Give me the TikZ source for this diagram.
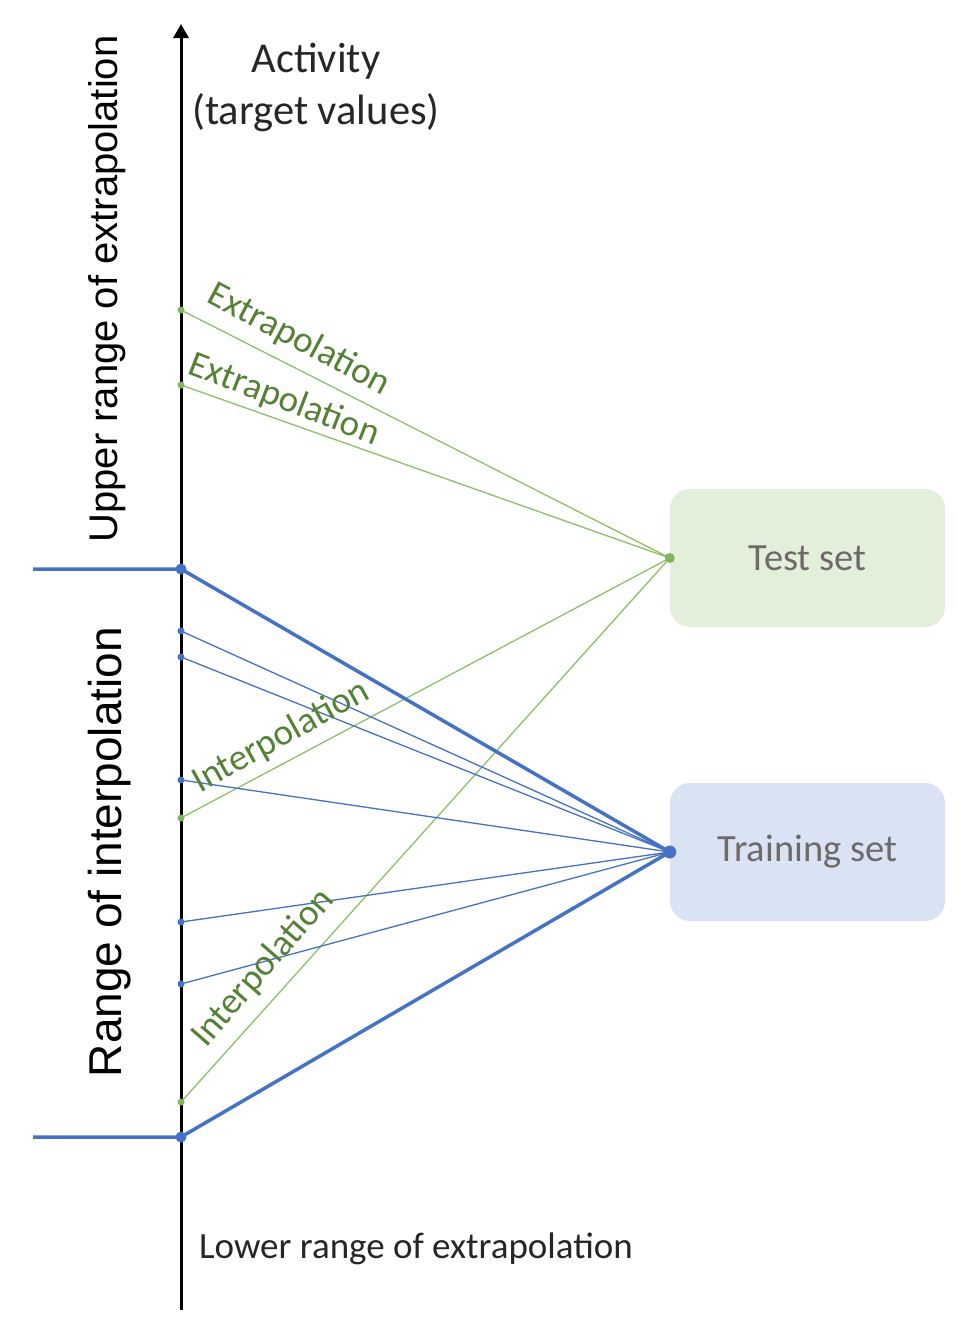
\documentclass[tikz,border=0pt]{standalone}
\usepackage{fontspec}
\setmainfont{Carlito}
\newfontfamily\arialf{Liberation Sans}
\usetikzlibrary{arrows.meta}
\definecolor{bl}{HTML}{4472C4}
\definecolor{gl}{HTML}{8CC068}
\definecolor{gtext}{HTML}{548235}
\definecolor{boxtext}{HTML}{6E6A6A}
\definecolor{testfill}{HTML}{E2EFDA}
\definecolor{trainfill}{HTML}{DAE3F3}
\begin{document}
\begin{tikzpicture}[x=1pt,y=-1pt,
  setbox/.style={rounded corners=20pt, minimum width=275pt, minimum height=138pt,
    inner sep=0pt, text=boxtext, font=\fontsize{38.5}{46}\selectfont},
  thinblue/.style={draw=bl, line width=1.3pt},
  thickblue/.style={draw=bl, line width=3.5pt},
  thingreen/.style={draw=gl, line width=1.3pt},
  glabel/.style={text=gtext, font=\fontsize{37}{44}\selectfont, inner sep=0pt},
  bdot/.style={circle, fill=bl, inner sep=0pt, minimum size=7pt},
  gdot/.style={circle, fill=gl!80!gtext, inner sep=0pt, minimum size=7pt},
  bigtext/.style={font=\arialf\fontsize{40}{48}\selectfont, inner sep=0pt},
  axtext/.style={font=\fontsize{37}{44}\selectfont, inner sep=0pt, text=black!85}
]
\useasboundingbox (0,0) rectangle (958,1331);

% boxes
\node[setbox, fill=testfill] (test) at (807.5,558) {Test set};
\node[setbox, fill=trainfill] (train) at (807.5,852) {Training set};

% hub coordinates
\coordinate (th) at (test.west);
\coordinate (rh) at (train.west);

% axis points
\coordinate (g1) at (181,310);
\coordinate (g2) at (181,385);
\coordinate (g3) at (181,818);
\coordinate (g4) at (181,1102);
\coordinate (bt) at (181,569);
\coordinate (bb) at (181,1137);
\coordinate (b1) at (181,631);
\coordinate (b2) at (181,657);
\coordinate (b3) at (181,780);
\coordinate (b4) at (181,922);
\coordinate (b5) at (181,984);
\coordinate (lt) at (33,569);
\coordinate (lb) at (33,1137);
\coordinate (abot) at (181,1310);
\coordinate (atop) at (181,24);

% green lines
\draw[thingreen] (g1) -- (th);
\draw[thingreen] (g2) -- (th);
\draw[thingreen] (g3) -- (th);
\draw[thingreen] (g4) -- (th);

% blue thin lines
\foreach \p in {b1,b2,b3,b4,b5} \draw[thinblue] (\p) -- (rh);

% blue thick lines
\draw[thickblue] (lt) -- (bt) -- (rh);
\draw[thickblue] (lb) -- (bb) -- (rh);

% axis
\draw[line width=3pt, -{Triangle[length=14pt,width=15pt]}] (abot) -- (atop);

% dots
\foreach \p in {g1,g2,g3,g4} \node[gdot] at (\p) {};
\node[gdot, minimum size=10pt] at (th) {};
\foreach \p in {b1,b2,b3,b4,b5} \node[bdot] at (\p) {};
\node[bdot, minimum size=11pt] at (bt) {};
\node[bdot, minimum size=11pt] at (bb) {};
\node[bdot, minimum size=13pt] at (rh) {};

% texts
\node[axtext, align=center, font=\fontsize{42.5}{52}\selectfont] (act) at (316,87) {Activity\\(target values)};
\node[axtext] (low) at (416,1249) {Lower range of extrapolation};
\node[bigtext, rotate=90] (upr) at (107,289) {Upper range of extrapolation};
\node[bigtext, rotate=90, font=\arialf\fontsize{46}{54}\selectfont] (rng) at (110,852) {Range of interpolation};

% green labels
\node[glabel, rotate=-28] (ex1) at (299,340) {Extrapolation};
\node[glabel, rotate=-21] (ex2) at (284,400) {Extrapolation};
\node[glabel, rotate=29] (in1) at (281,737) {Interpolation};
\node[glabel, rotate=49] (in2) at (263,968) {Interpolation};
\end{tikzpicture}
\end{document}
